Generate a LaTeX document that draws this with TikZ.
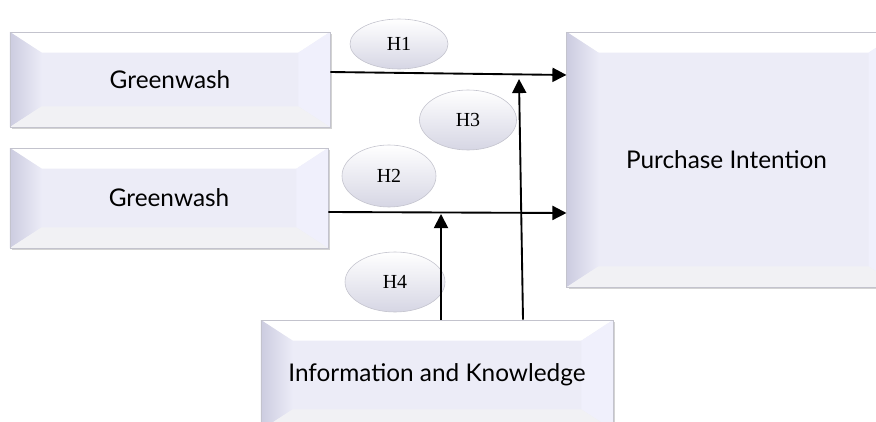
\documentclass[tikz,border=0pt]{standalone}
\usepackage{fontspec}
\usepackage{tikz}
\usetikzlibrary{positioning,calc}
\usetikzlibrary{arrows.meta,shapes.geometric,shadows}
\newfontfamily\boxfont{Lato}
\newfontfamily\hypfont{Liberation Serif}
\definecolor{BoxFill}{RGB}{236,236,247}
\definecolor{BoxEdge}{RGB}{195,195,205}
\definecolor{BevLeft}{RGB}{204,204,224}
\definecolor{BevRight}{RGB}{240,240,252}
\definecolor{BevBot}{RGB}{241,241,244}
\definecolor{OvalLow}{RGB}{214,214,228}
\tikzset{
  bev/.style={draw=BoxEdge,fill=BoxFill,line width=0.6pt,inner sep=0pt,
    font=\boxfont\fontsize{20.8}{24}\selectfont,
    drop shadow={opacity=0.35,shadow xshift=2pt,shadow yshift=-2pt},
    path picture={
      \fill[white] (path picture bounding box.north west) -- (path picture bounding box.north east)
        -- ($(path picture bounding box.north east)+(-0.95cm,-0.62cm)$)
        -- ($(path picture bounding box.north west)+(0.95cm,-0.62cm)$) -- cycle;
      \shade[left color=BevLeft,right color=BoxFill] (path picture bounding box.north west) -- (path picture bounding box.south west)
        -- ($(path picture bounding box.south west)+(0.95cm,0.62cm)$)
        -- ($(path picture bounding box.north west)+(0.95cm,-0.62cm)$) -- cycle;
      \fill[BevRight] (path picture bounding box.north east) -- (path picture bounding box.south east)
        -- ($(path picture bounding box.south east)+(-0.95cm,0.62cm)$)
        -- ($(path picture bounding box.north east)+(-0.95cm,-0.62cm)$) -- cycle;
      \fill[BevBot] (path picture bounding box.south west) -- (path picture bounding box.south east)
        -- ($(path picture bounding box.south east)+(-0.95cm,0.62cm)$)
        -- ($(path picture bounding box.south west)+(0.95cm,0.62cm)$) -- cycle;
    }},
  hyp/.style={ellipse,draw=BoxEdge,line width=0.5pt,top color=white,bottom color=OvalLow,
    inner sep=0pt,font=\hypfont\fontsize{17}{20}\selectfont},
  arr/.style={draw=black,line width=1.6pt,-{Triangle[length=12pt,width=12pt]}},
}

\begin{document}
\begin{tikzpicture}[x=0.03cm,y=0.03cm]
\useasboundingbox (0,0) rectangle (876,-421);
\clip (0,0) rectangle (876,-421);
% construct boxes
\node[bev,minimum width=9.6cm,minimum height=2.85cm](g1) at (170,-79.5){Greenwash};
\node[bev,minimum width=9.54cm,minimum height=3cm](g2) at (169,-198){Greenwash};
\node[bev,minimum width=10cm,minimum height=7.65cm](pi) at (733.5,-159.5){Purchase Intention\hspace*{0.42cm}};
\node[bev,minimum width=10.56cm,minimum height=3.3cm](info) at (437,-375){Information and Knowledge};
% hypotheses
\node[hyp,minimum width=2.94cm,minimum height=1.5cm](h1) at (399,-44){H1};
\node[hyp,minimum width=2.91cm,minimum height=1.8cm](h3) at (468,-120){H3};
\node[hyp,minimum width=2.82cm,minimum height=1.86cm](h2) at (389,-176){H2};
\node[hyp,minimum width=3cm,minimum height=1.8cm](h4) at (395,-282){H4};
% paths
\coordinate (j1) at (519,-79);\coordinate (j2) at (441,-214);
\draw[arr] (g1.east |- 0,-72) -- (pi.west |- 0,-75);
\draw[arr] (g2.east |- 0,-212) -- (pi.west |- 0,-213);
\draw[arr] (info.north -| j2) -- (j2);
\draw[arr] (info.north -| 523,0) -- (j1);
\end{tikzpicture}
\end{document}
